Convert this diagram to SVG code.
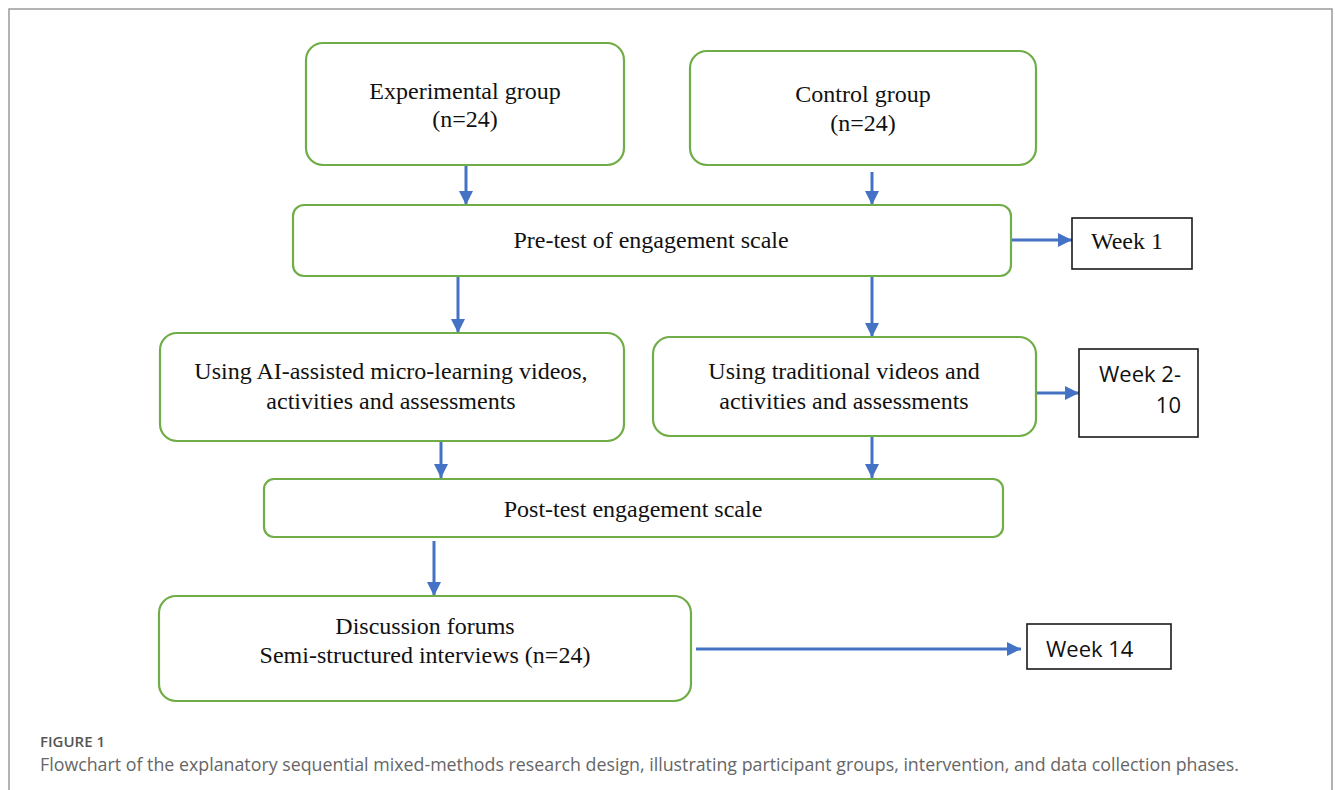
<svg xmlns="http://www.w3.org/2000/svg" width="1335" height="790" viewBox="0 0 1335 790">
  <style>
    .step { fill: #ffffff; stroke: #70ad47; stroke-width: 2.2; }
    .week { fill: #ffffff; stroke: #1a1a1a; stroke-width: 1.6; }
    .serif { font-family: "Liberation Serif", "Times New Roman", serif; font-size: 24px; fill: #111111; text-anchor: middle; }
    .sans { font-family: "Open Sans", "Noto Sans", "Liberation Sans", sans-serif; font-size: 22px; fill: #111111; }
    .link { stroke: #4472c4; stroke-width: 3; fill: none; marker-end: url(#head); }
    .cap-title { font-family: "Open Sans", "Noto Sans", sans-serif; font-size: 15px; font-weight: 600; fill: #555555; }
    .cap-text { font-family: "Open Sans", "Noto Sans", sans-serif; font-size: 19px; fill: #666666; }
  </style>
  <defs>
    <marker id="head" markerUnits="userSpaceOnUse" markerWidth="15" markerHeight="15" refX="14" refY="7" orient="auto" viewBox="0 0 15 15">
      <path d="M0,0 L14,7 L0,14 Z" fill="#4472c4"/>
    </marker>
  </defs>

  <rect width="1335" height="790" fill="#ffffff"/>
  <!-- figure frame -->
  <rect x="9" y="9" width="1323" height="800" fill="none" stroke="#9a9a9a" stroke-width="1.5"/>

  <g id="connectors">
    <line class="link" x1="466" y1="165" x2="466" y2="205"/>
    <line class="link" x1="872" y1="172" x2="872" y2="205"/>
    <line class="link" x1="1011" y1="240" x2="1072" y2="240"/>
    <line class="link" x1="458" y1="276" x2="458" y2="333"/>
    <line class="link" x1="872" y1="276" x2="872" y2="337"/>
    <line class="link" x1="1036" y1="393" x2="1079" y2="393"/>
    <line class="link" x1="441" y1="441" x2="441" y2="478"/>
    <line class="link" x1="872" y1="436" x2="872" y2="478"/>
    <line class="link" x1="434" y1="541" x2="434" y2="596"/>
    <line class="link" x1="696" y1="649" x2="1021" y2="649"/>
  </g>

  <g id="experimental-group">
    <rect class="step" x="306" y="43" width="318" height="122" rx="17"/>
    <text class="serif" x="465" y="99">Experimental group</text>
    <text class="serif" x="465" y="127">(n=24)</text>
  </g>

  <g id="control-group">
    <rect class="step" x="690" y="51" width="346" height="114" rx="17"/>
    <text class="serif" x="863" y="102">Control group</text>
    <text class="serif" x="863" y="131">(n=24)</text>
  </g>

  <g id="pre-test">
    <rect class="step" x="293" y="205" width="718" height="71" rx="11"/>
    <text class="serif" x="651" y="248">Pre-test of engagement scale</text>
  </g>

  <g id="week-1">
    <rect class="week" x="1072" y="218" width="120" height="51"/>
    <text class="serif" x="1127" y="249">Week 1</text>
  </g>

  <g id="ai-videos">
    <rect class="step" x="160" y="333" width="464" height="108" rx="17"/>
    <text class="serif" x="391" y="379">Using AI-assisted micro-learning videos,</text>
    <text class="serif" x="391" y="409">activities and assessments</text>
  </g>

  <g id="traditional-videos">
    <rect class="step" x="653" y="337" width="383" height="99" rx="17"/>
    <text class="serif" x="844" y="379">Using traditional videos and</text>
    <text class="serif" x="844" y="409">activities and assessments</text>
  </g>

  <g id="week-2-10">
    <rect class="week" x="1079" y="349" width="119" height="88"/>
    <text class="sans" x="1181" y="382" text-anchor="end">Week 2-</text>
    <text class="sans" x="1181" y="413" text-anchor="end">10</text>
  </g>

  <g id="post-test">
    <rect class="step" x="264" y="479" width="739" height="58" rx="10"/>
    <text class="serif" x="633" y="517">Post-test engagement scale</text>
  </g>

  <g id="discussion">
    <rect class="step" x="159" y="596" width="532" height="105" rx="17"/>
    <text class="serif" x="425" y="634">Discussion forums</text>
    <text class="serif" x="425" y="663">Semi-structured interviews (n=24)</text>
  </g>

  <g id="week-14">
    <rect class="week" x="1027" y="624" width="144" height="45"/>
    <text class="sans" x="1046" y="657">Week 14</text>
  </g>

  <g id="caption">
    <text class="cap-title" x="40" y="747">FIGURE 1</text>
    <text class="cap-text" x="40" y="771" textLength="1199" lengthAdjust="spacingAndGlyphs">Flowchart of the explanatory sequential mixed-methods research design, illustrating participant groups, intervention, and data collection phases.</text>
  </g>
</svg>
